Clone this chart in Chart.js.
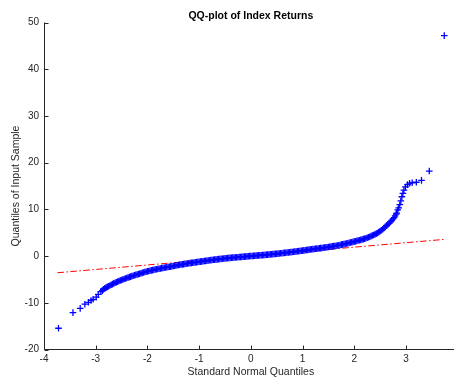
<!DOCTYPE html>
<html><head><meta charset="utf-8">
<script src="https://cdn.jsdelivr.net/npm/chart.js@4/dist/chart.umd.min.js"></script>
<style>html,body{margin:0;padding:0;background:#fff;overflow:hidden;}canvas{display:block;}</style>
</head><body>
<canvas id="c" width="454" height="378"></canvas>
<script>
const titleText = 'QQ-plot of Index Returns';
const xLabel = 'Standard Normal Quantiles';
const yLabel = 'Quantiles of Input Sample';
const xTicks = [-4, -3, -2, -1, 0, 1, 2, 3, 4];
const yTicks = [-20, -10, 0, 10, 20, 30, 40, 50];

// standard normal quantiles (x)
const sampleX = [
  -3.72, -3.44, -3.30, -3.21, -3.14, -3.09, -3.05, -2.99, -2.95, -2.90, -2.87,
  -2.850, -2.825, -2.800, -2.775, -2.750, -2.725, -2.700, -2.675, -2.650, -2.625,
  -2.600, -2.575, -2.550, -2.525, -2.500, -2.475, -2.450, -2.425, -2.400, -2.375,
  -2.350, -2.325, -2.300, -2.275, -2.250, -2.225, -2.200, -2.175, -2.150, -2.125,
  -2.100, -2.075, -2.050, -2.025, -2.000, -1.975, -1.950, -1.925, -1.900, -1.875,
  -1.850, -1.825, -1.800, -1.775, -1.750, -1.725, -1.700, -1.675, -1.650, -1.625,
  -1.600, -1.575, -1.550, -1.525, -1.500, -1.475, -1.450, -1.425, -1.400, -1.375,
  -1.350, -1.325, -1.300, -1.275, -1.250, -1.225, -1.200, -1.175, -1.150, -1.125,
  -1.100, -1.075, -1.050, -1.025, -1.000, -0.975, -0.950, -0.925, -0.900, -0.875,
  -0.850, -0.825, -0.800, -0.775, -0.750, -0.725, -0.700, -0.675, -0.650, -0.625,
  -0.600, -0.575, -0.550, -0.525, -0.500, -0.475, -0.450, -0.425, -0.400, -0.375,
  -0.350, -0.325, -0.300, -0.275, -0.250, -0.225, -0.200, -0.175, -0.150, -0.125,
  -0.100, -0.075, -0.050, -0.025, 0.000, 0.025, 0.050, 0.075, 0.100, 0.125,
  0.150, 0.175, 0.200, 0.225, 0.250, 0.275, 0.300, 0.325, 0.350, 0.375,
  0.400, 0.425, 0.450, 0.475, 0.500, 0.525, 0.550, 0.575, 0.600, 0.625,
  0.650, 0.675, 0.700, 0.725, 0.750, 0.775, 0.800, 0.825, 0.850, 0.875,
  0.900, 0.925, 0.950, 0.975, 1.000, 1.025, 1.050, 1.075, 1.100, 1.125,
  1.150, 1.175, 1.200, 1.225, 1.250, 1.275, 1.300, 1.325, 1.350, 1.375,
  1.400, 1.425, 1.450, 1.475, 1.500, 1.525, 1.550, 1.575, 1.600, 1.625,
  1.650, 1.675, 1.700, 1.725, 1.750, 1.775, 1.800, 1.825, 1.850, 1.875,
  1.900, 1.925, 1.950, 1.975, 2.000, 2.025, 2.050, 2.075, 2.100, 2.125,
  2.150, 2.175, 2.200, 2.225, 2.250, 2.275, 2.300, 2.325, 2.350, 2.375,
  2.400, 2.425, 2.450, 2.475, 2.500, 2.525, 2.550, 2.575, 2.600, 2.625,
  2.650, 2.675, 2.700, 2.725, 2.750,
  2.77, 2.79, 2.81, 2.82, 2.84, 2.86, 2.88, 2.90, 2.92, 2.94,
  2.96, 2.99, 3.03, 3.07, 3.12, 3.20, 3.30, 3.45, 3.74
];
// sample quantiles (y)
const sampleY = [
  -15.45, -12.1, -11.2, -10.3, -9.9, -9.5, -9.25, -8.8, -8.2, -7.6, -7.4,
  -7.10, -6.92, -6.75, -6.60, -6.45, -6.30, -6.15, -6.00, -5.85, -5.72,
  -5.60, -5.47, -5.35, -5.23, -5.12, -5.01, -4.90, -4.80, -4.70, -4.60,
  -4.50, -4.40, -4.30, -4.21, -4.12, -4.03, -3.95, -3.86, -3.78, -3.69,
  -3.60, -3.51, -3.42, -3.35, -3.28, -3.21, -3.14, -3.07, -3.00, -2.94,
  -2.88, -2.82, -2.76, -2.70, -2.65, -2.59, -2.54, -2.49, -2.44, -2.39,
  -2.34, -2.29, -2.25, -2.19, -2.14, -2.08, -2.03, -1.97, -1.92, -1.87,
  -1.82, -1.77, -1.72, -1.67, -1.63, -1.58, -1.54, -1.50, -1.46, -1.42,
  -1.38, -1.34, -1.30, -1.26, -1.22, -1.18, -1.14, -1.10, -1.07, -1.03,
  -0.99, -0.95, -0.91, -0.87, -0.84, -0.80, -0.77, -0.73, -0.70, -0.66,
  -0.63, -0.60, -0.57, -0.53, -0.50, -0.47, -0.44, -0.41, -0.39, -0.36,
  -0.34, -0.31, -0.29, -0.26, -0.24, -0.21, -0.19, -0.17, -0.15, -0.12,
  -0.10, -0.07, -0.05, -0.02, 0.00, 0.03, 0.05, 0.07, 0.09, 0.12,
  0.14, 0.16, 0.18, 0.21, 0.23, 0.26, 0.28, 0.31, 0.33, 0.36,
  0.38, 0.41, 0.44, 0.47, 0.50, 0.53, 0.56, 0.59, 0.62, 0.65,
  0.68, 0.72, 0.75, 0.78, 0.82, 0.85, 0.88, 0.92, 0.95, 0.99,
  1.02, 1.06, 1.10, 1.13, 1.17, 1.21, 1.25, 1.29, 1.33, 1.37,
  1.41, 1.45, 1.49, 1.52, 1.56, 1.60, 1.63, 1.67, 1.70, 1.74,
  1.78, 1.82, 1.86, 1.90, 1.94, 1.98, 2.03, 2.07, 2.12, 2.17,
  2.22, 2.27, 2.33, 2.38, 2.44, 2.50, 2.56, 2.62, 2.68, 2.75,
  2.82, 2.89, 2.96, 3.03, 3.10, 3.17, 3.25, 3.32, 3.40, 3.47,
  3.55, 3.63, 3.72, 3.82, 3.92, 4.03, 4.15, 4.27, 4.40, 4.52,
  4.65, 4.80, 4.95, 5.13, 5.32, 5.53, 5.75, 6.00, 6.25, 6.52,
  6.80, 7.05, 7.30, 7.62, 7.95,
  8.25, 8.60, 9.0, 9.2, 9.9, 10.3, 11.0, 11.8, 12.7, 13.4,
  14.1, 14.8, 15.3, 15.6, 15.7, 15.8, 16.2, 18.2, 47.2
];

// reference line (dash-dot) end points
const refLineX = [-3.74, 3.74];
const refLineY = [-3.57, 3.57];

const FONT = "'Liberation Sans', Arial, Helvetica, sans-serif";
const AXIS_COLOR = '#262626';

// fixed plot box (the x axis runs slightly past the right edge of the window, as in the original)
const BOX = {left: 44, right: 457.7, top: 22.5, bottom: 349.5};

const boxPlugin = {
  id: 'fixedBox',
  afterLayout(chart) {
    const a = chart.chartArea;
    a.left = BOX.left; a.right = BOX.right; a.top = BOX.top; a.bottom = BOX.bottom;
    a.width = a.right - a.left; a.height = a.bottom - a.top;
    const {x, y} = chart.scales;
    x.left = BOX.left; x.right = BOX.right; x.width = BOX.right - BOX.left;
    x.top = BOX.bottom; x.bottom = chart.height; x.height = x.bottom - x.top;
    y.left = 0; y.right = BOX.left; y.width = BOX.left;
    y.top = BOX.top; y.bottom = BOX.bottom; y.height = BOX.bottom - BOX.top;
    x.configure(); y.configure();
    if (chart.titleBlock) {
      chart.titleBlock.left = BOX.left;
      chart.titleBlock.right = BOX.right;
      chart.titleBlock.width = BOX.right - BOX.left;
    }
  }
};

const axisPlugin = {
  id: 'matlabAxes',
  afterDraw(chart) {
    const {ctx, chartArea: a, scales: {x, y}} = chart;
    ctx.save();
    ctx.strokeStyle = AXIS_COLOR;
    ctx.lineWidth = 1;
    ctx.beginPath();
    const L = Math.round(a.left) + 0.5;
    const B = Math.round(a.bottom) - 0.5;
    ctx.moveTo(L, a.top);
    ctx.lineTo(L, B);
    ctx.lineTo(a.right, B);
    xTicks.forEach(v => {
      const p = Math.round(x.getPixelForValue(v)) + 0.5;
      ctx.moveTo(p, B); ctx.lineTo(p, B - 4);
    });
    yTicks.forEach(v => {
      const p = Math.round(y.getPixelForValue(v)) + 0.5;
      ctx.moveTo(L, p); ctx.lineTo(L + 4, p);
    });
    ctx.stroke();
    ctx.restore();
  }
};

new Chart(document.getElementById('c'), {
  type: 'scatter',
  data: {
    datasets: [
      {
        label: 'sample',
        data: sampleX.map((v, i) => ({x: v, y: sampleY[i]})),
        pointStyle: 'cross',
        pointRadius: 3.3,
        pointBorderWidth: 1.3,
        borderColor: '#0000ff',
        backgroundColor: '#0000ff',
        showLine: false,
        order: 0
      },
      {
        type: 'line',
        label: 'reference',
        data: refLineX.map((v, i) => ({x: v, y: refLineY[i]})),
        borderColor: '#ff0000',
        borderWidth: 1,
        borderDash: [6.5, 2.5, 1.5, 2.5],
        pointRadius: 0,
        fill: false,
        order: 1
      }
    ]
  },
  options: {
    responsive: false,
    animation: false,
    events: [],
    layout: {padding: 0},
    plugins: {
      legend: {display: false},
      tooltip: {enabled: false},
      title: {
        display: true,
        text: titleText,
        color: '#000',
        font: {family: FONT, size: 10.5, weight: 'bold', lineHeight: 1},
        padding: {top: 11, bottom: 1}
      }
    },
    scales: {
      x: {
        type: 'linear',
        min: -4, max: 4,
        afterBuildTicks: s => { s.ticks = xTicks.map(v => ({value: v})); },
        grid: {display: false, drawTicks: false},
        border: {display: false},
        ticks: {color: AXIS_COLOR, font: {family: FONT, size: 10}, padding: 4, maxRotation: 0, autoSkip: false},
        title: {display: true, text: xLabel, color: AXIS_COLOR, font: {family: FONT, size: 10.5, lineHeight: 1.1}, padding: {top: 0, bottom: 0}}
      },
      y: {
        type: 'linear',
        min: -20, max: 50,
        afterBuildTicks: s => { s.ticks = yTicks.map(v => ({value: v})); },
        grid: {display: false, drawTicks: false},
        border: {display: false},
        ticks: {color: AXIS_COLOR, font: {family: FONT, size: 10}, padding: 5, autoSkip: false},
        title: {display: true, text: yLabel, color: AXIS_COLOR, font: {family: FONT, size: 10.5, lineHeight: 1.1}, padding: {top: 10, bottom: 0}}
      }
    }
  },
  plugins: [boxPlugin, axisPlugin]
});
</script>
</body></html>
